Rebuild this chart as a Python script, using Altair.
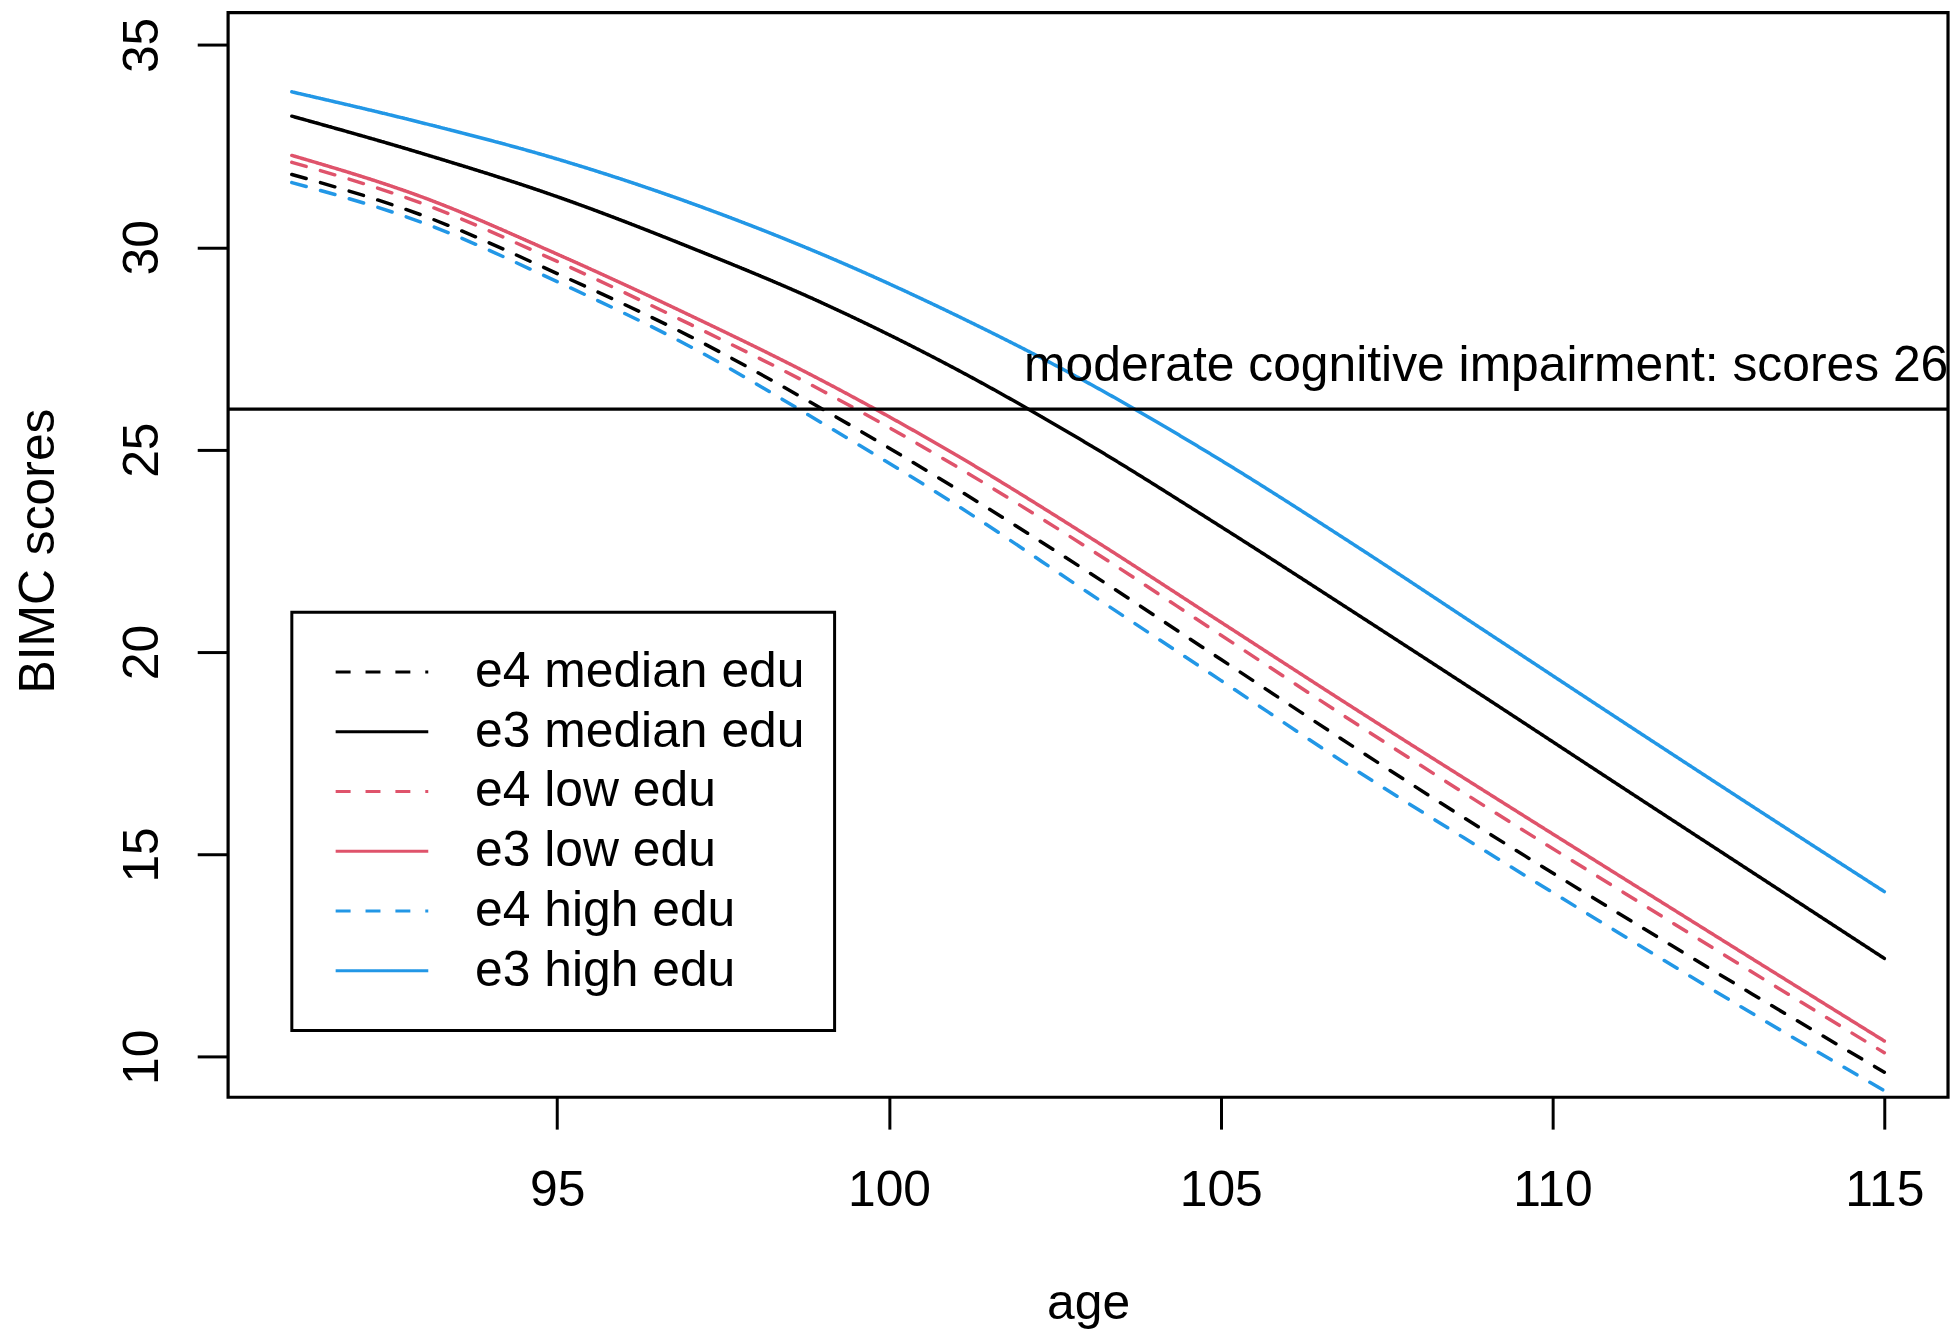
import altair as alt
import pandas as pd

FONT = "Liberation Sans, Arial, Helvetica, sans-serif"

AGES = [91, 93, 95, 97, 99, 101, 103, 105, 107, 109, 111, 113, 115]

E4_MEDIAN = [31.80, 30.77, 29.35, 27.80, 26.00, 24.05, 21.98, 19.82, 17.66, 15.56, 13.54, 11.56, 9.62]
E3_MEDIAN = [33.24, 32.30, 31.25, 30.00, 28.62, 27.00, 25.14, 23.10, 20.99, 18.86, 16.71, 14.57, 12.43]
E4_LOW = [32.10, 31.06, 29.65, 28.10, 26.45, 24.60, 22.57, 20.42, 18.27, 16.17, 14.13, 12.10, 10.10]
E3_LOW = [32.27, 31.22, 29.83, 28.32, 26.70, 24.88, 22.86, 20.74, 18.62, 16.54, 14.48, 12.43, 10.39]
E4_HIGH = [31.60, 30.59, 29.15, 27.55, 25.65, 23.65, 21.47, 19.30, 17.12, 15.07, 13.06, 11.08, 9.16]
E3_HIGH = [33.84, 33.06, 32.18, 31.10, 29.82, 28.33, 26.65, 24.74, 22.66, 20.50, 18.34, 16.20, 14.08]

GROUPS = ["e4 median edu", "e3 median edu", "e4 low edu", "e3 low edu", "e4 high edu", "e3 high edu"]
SERIES = [E4_MEDIAN, E3_MEDIAN, E4_LOW, E3_LOW, E4_HIGH, E3_HIGH]
COLORS = ["#000000", "#000000", "#DF536B", "#DF536B", "#2297E6", "#2297E6"]
DASHES = [[15, 15], [1, 0], [15, 15], [1, 0], [15, 15], [1, 0]]

X_TICKS = [95, 100, 105, 110, 115]
Y_TICKS = [10, 15, 20, 25, 30, 35]
THRESHOLD = 26
LABEL_AGE = 109
LABEL_TEXT = "moderate cognitive impairment: scores 26"

rows = []
for g, vals in zip(GROUPS, SERIES):
    for a, v in zip(AGES, vals):
        rows.append({"age": a, "score": v, "group": g})
df = pd.DataFrame(rows)

xscale = alt.Scale(domain=[90.04, 115.96], nice=False, zero=False)
yscale = alt.Scale(domain=[9.0, 35.796], nice=False, zero=False)

legend = alt.Legend(
    title=None, orient="none", legendX=64, legendY=602,
    padding=30, strokeColor="black", fillColor="white",
    labelFont=FONT, labelFontSize=50, labelColor="black", labelLimit=2000,
    symbolType="stroke", symbolSize=8649, symbolStrokeWidth=3.2,
    symbolOffset=12, labelOffset=45, clipHeight=60, rowPadding=0,
)

lines = alt.Chart(df).mark_line(strokeWidth=3.5, strokeCap="round", interpolate="monotone").encode(
    x=alt.X("age:Q", scale=xscale, axis=alt.Axis(
        values=X_TICKS, format="d", title="age", tickSize=32, labelPadding=77,
        labelBaseline="alphabetic", titleY=222, titleBaseline="alphabetic")),
    y=alt.Y("score:Q", scale=yscale, axis=alt.Axis(
        values=Y_TICKS, format="d", title="BIMC scores", tickSize=31, labelAngle=270,
        labelAlign="center", labelBaseline="alphabetic", labelPadding=40,
        titleAngle=270, titleAlign="center", titleBaseline="alphabetic",
        titleX=-175, titleY=540)),
    color=alt.Color("group:N", scale=alt.Scale(domain=GROUPS, range=COLORS), legend=legend),
    strokeDash=alt.StrokeDash("group:N", scale=alt.Scale(domain=GROUPS, range=DASHES), legend=legend),
    detail="group:N",
)

rule = alt.Chart(pd.DataFrame({"score": [THRESHOLD]})).mark_rule(color="black", strokeWidth=3.2).encode(
    y=alt.Y("score:Q", scale=yscale)
)

label = alt.Chart(pd.DataFrame({"age": [LABEL_AGE], "score": [THRESHOLD], "label": [LABEL_TEXT]})).mark_text(
    align="center", baseline="alphabetic", dy=-28, fontSize=50, font=FONT, color="black"
).encode(x=alt.X("age:Q", scale=xscale), y=alt.Y("score:Q", scale=yscale), text="label:N")

chart = alt.layer(lines, rule, label).properties(
    width=1727, height=1089,
    padding={"left": 221, "top": 2, "right": 4, "bottom": 233},
    autosize=alt.AutoSizeParams(type="none"),
).configure_view(
    stroke="black", strokeWidth=3.2
).configure_axis(
    domain=False, grid=False, ticks=True, tickColor="black", tickWidth=3,
    labelColor="black", labelFont=FONT, labelFontSize=50,
    titleFont=FONT, titleFontSize=50, titleFontWeight="normal", titleColor="black",
).configure_legend(
    strokeWidth=3
)

chart.save("out.html", embed_options={"renderer": "svg", "actions": False})
